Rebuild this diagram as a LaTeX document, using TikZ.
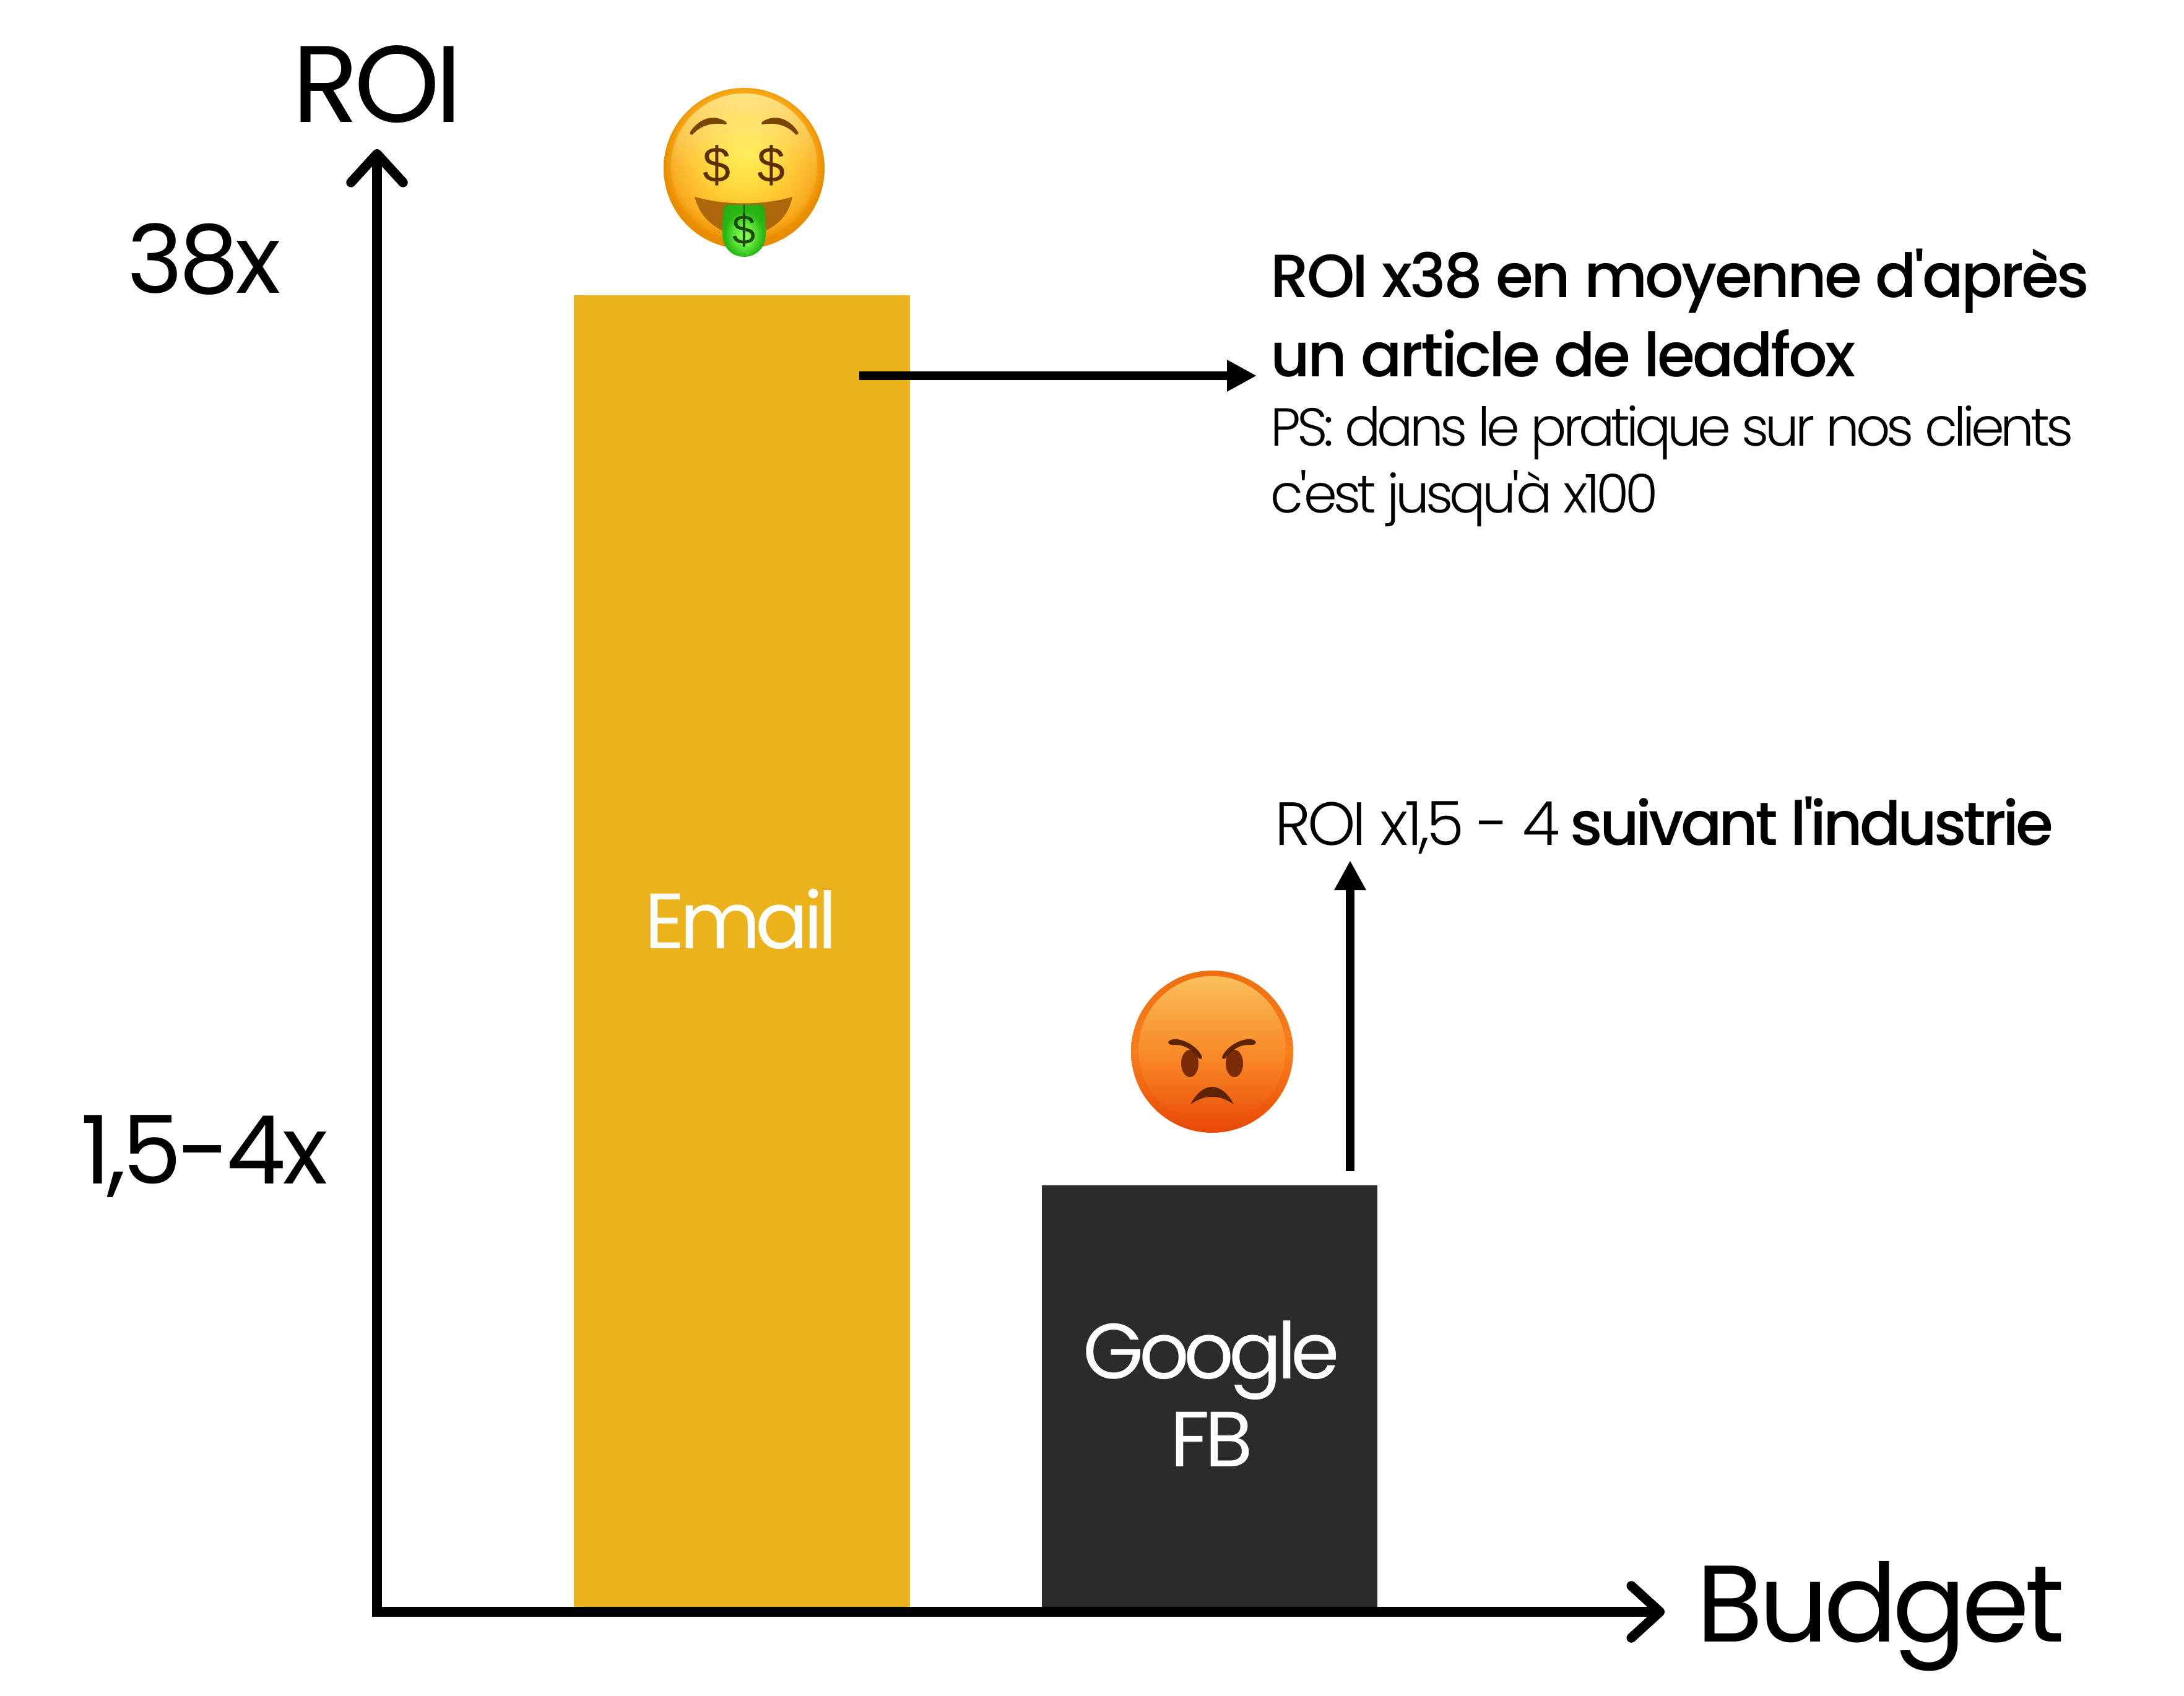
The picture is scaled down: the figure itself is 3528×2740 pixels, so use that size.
\documentclass[tikz,border=0pt]{standalone}
\usepackage{fontspec}
\usetikzlibrary{arrows.meta,calc,fadings}
\setmainfont{Poppins}[UprightFont=* Light,BoldFont=* Medium]
\newfontfamily\fBig{Poppins}[LetterSpace=-4.2]
\newfontfamily\fIn{Poppins}[LetterSpace=-6.5]
\newfontfamily\fMid{Poppins}[LetterSpace=-4]
\newfontfamily\fNote{Poppins}[UprightFont=* Light,BoldFont=* Medium,LetterSpace=-3.9]
\newfontfamily\fNoteB{Poppins}[UprightFont=* Light,BoldFont=* Medium,LetterSpace=-5.3]
\newfontfamily\fSmall{Poppins}[UprightFont=* Light,LetterSpace=-7]
\newfontfamily\fDollar{Liberation Sans}
\definecolor{bargold}{HTML}{ECB21C}
\definecolor{bardark}{HTML}{2B2B2B}
\definecolor{ebrown}{HTML}{5C3000}
\definecolor{browb}{HTML}{7A4500}
\definecolor{mouthb}{HTML}{AD680C}
\definecolor{angryb}{HTML}{7A2A05}
\definecolor{angryd}{HTML}{5E2204}
\definecolor{hlyellow}{HTML}{FFF6A8}
\definecolor{hlorange}{HTML}{FFDE78}
\definecolor{tonguetxt}{HTML}{1E4A10}
\definecolor{angtop}{HTML}{EE6E10}
\definecolor{angmid}{HTML}{F87F1C}
\definecolor{angbot}{HTML}{E84806}
\pgfdeclareradialshading{moneyface}{\pgfpoint{0bp}{4bp}}{rgb(0bp)=(1,0.925,0.27);rgb(10bp)=(1,0.83,0.19);rgb(17bp)=(1,0.73,0.13);rgb(22bp)=(0.97,0.65,0.08);rgb(25bp)=(0.91,0.55,0);rgb(50bp)=(0.91,0.55,0)}
\pgfdeclareradialshading{tonguegrad}{\pgfpoint{0bp}{-6bp}}{rgb(0bp)=(0.55,1,0.36);rgb(10bp)=(0.4,0.92,0.25);rgb(22bp)=(0.16,0.72,0.08);rgb(50bp)=(0.12,0.6,0.06)}
\tikzfading[name=hlfade,top color=transparent!25,bottom color=transparent!100,middle color=transparent!85]
\tikzset{
  axisline/.style={line width=0.165cm,draw=black,shorten <=-0.08cm,-{Straight Barb[length=0.46cm,width=0.84cm,line width=0.155cm,round,line cap=round]}},
  pointer/.style={line width=0.14cm,draw=black,-{Triangle[length=0.48cm,width=0.48cm]}},
  bar/.style={anchor=north west,inner sep=0pt,outer sep=0pt},
  inbar/.style={anchor=base,inner sep=0pt,text=white,font=\fIn\fontsize{36}{41}\selectfont},
  big/.style={anchor=base west,inner sep=0pt,font=\fBig\fontsize{50}{60}\selectfont},
  mid/.style={anchor=base west,inner sep=0pt,font=\fMid\fontsize{43.5}{50}\selectfont},
  note/.style={anchor=base west,inner sep=0pt,font=\fNote\fontsize{28}{34}\selectfont},
  noteb/.style={anchor=base west,inner sep=0pt,font=\fNoteB\fontsize{28}{34}\selectfont},
  small/.style={anchor=base west,inner sep=0pt,font=\fSmall\fontsize{24.6}{30}\selectfont},
  x=0.01cm,y=-0.01cm
}
\begin{document}
\begin{tikzpicture}
\useasboundingbox (0,0) rectangle (3528,2740);
\fill[white] (0,0) rectangle (3528,2740);
% bars
\node[bar,fill=bargold,minimum width=5.43cm,minimum height=21.27cm] (email) at (927,477) {};
\node[bar,fill=bardark,minimum width=5.42cm,minimum height=6.89cm] (gfb) at (1683,1915) {};
\node[inbar] (emailt) at (1197,1532) {Email};
\node[inbar] (googlet) at (1957,2227) {Google};
\node[inbar] (fbt) at (1957,2369) {FB};
% axes
\coordinate (origin) at (609,2604);
\coordinate (ytop) at (609,241);
\coordinate (xend) at (2689,2604);
\draw[axisline] (origin) -- (ytop);
\draw[axisline] (origin) -- (xend);
% axis labels
\node[big] (roi) at (472,198) {ROI};
\node[big] (budget) at (2740,2652) {Budget};
\node[mid] (v38) at (205,474) {38x};
\node[mid] (v15) at (130,1912) {1,5-4x};
% right texts
\node[note] (t1) at (2052,481) {\textbf{ROI x38 en moyenne d'après}};
\node[note] (t2) at (2052,609) {\textbf{un article de leadfox}};
\node[small] (t3) at (2052,720) {PS: dans le pratique sur nos clients};
\node[small] (t4) at (2052,828) {c'est jusqu'à x100};
\node[noteb] (t5) at (2059,1365) {ROI x1,5 - 4 \textbf{suivant l'industrie}};
% pointers
\coordinate (p1s) at (1388,607);
\coordinate (p1e) at (2030,607);
\coordinate (p2s) at (2181,1892);
\coordinate (p2e) at (2181,1390);
\draw[pointer] (p1s) -- (p1e);
\draw[pointer] (p2s) -- (p2e);
% money emoji
\begin{scope}[shift={(1202,272)}]
  \shade[shading=moneyface] (0,0) circle (130);
  \fill[hlyellow,path fading=hlfade] (0,-3) circle (118);
  \foreach \s in {-1,1}{
    \fill[browb] (\s*87,-59) .. controls (\s*72,-82) and (\s*48,-88) .. (\s*29,-75) .. controls (\s*27,-73) and (\s*28,-71) .. (\s*30,-71) .. controls (\s*48,-74) and (\s*68,-72) .. (\s*84,-54) .. controls (\s*86,-54) and (\s*89,-56) .. (\s*87,-59) -- cycle;
    \node[text=ebrown,inner sep=0pt,font=\fDollar\fontsize{23}{23}\selectfont] at (\s*44,-5) {\$};
  }
  \fill[mouthb] (-80,46) .. controls (-30,60) and (30,60) .. (78,46) .. controls (72,75) and (55,92) .. (30,103) -- (-30,103) .. controls (-55,92) and (-72,75) .. (-80,46) -- cycle;
  \shade[shading=tonguegrad] (-30,59) -- (30,59) .. controls (33,62) and (34,68) .. (34,75) -- (35,105) .. controls (35,130) and (18,143) .. (0,143) .. controls (-18,143) and (-35,130) .. (-35,105) -- (-34,75) .. controls (-34,68) and (-33,62) .. (-30,59) -- cycle;
  \draw[line width=0.012cm,draw=tonguetxt] (0,59) -- (0,80);
  \node[text=tonguetxt,inner sep=0pt,font=\fDollar\fontsize{19}{19}\selectfont] at (0,100) {\$};
\end{scope}
% angry emoji
\begin{scope}[shift={(1958,1699)}]
  \shade[top color=angtop,bottom color=angbot,middle color=angmid] (0,0) circle (131);
  \fill[hlorange,path fading=hlfade] (0,-3) circle (119);
  \foreach \s in {-1,1}{
    \fill[angryb] (\s*36,19) ellipse[x radius=14,y radius=22];
    \fill[angryd] (\s*71,-15) .. controls (\s*68,-22) and (\s*55,-21) .. (\s*45,-17) .. controls (\s*32,-12) and (\s*20,-2) .. (\s*16,9) .. controls (\s*17,13) and (\s*20,12) .. (\s*22,10) .. controls (\s*30,0) and (\s*40,-8) .. (\s*50,-10) .. controls (\s*60,-12) and (\s*70,-9) .. (\s*71,-15) -- cycle;
  }
  \fill[angryd] (-35,85) .. controls (-24,65) and (-12,57) .. (0,57) .. controls (12,57) and (24,65) .. (35,85) .. controls (20,75) and (10,73) .. (0,73) .. controls (-10,73) and (-20,75) .. (-35,85) -- cycle;
\end{scope}
\end{tikzpicture}
\end{document}
